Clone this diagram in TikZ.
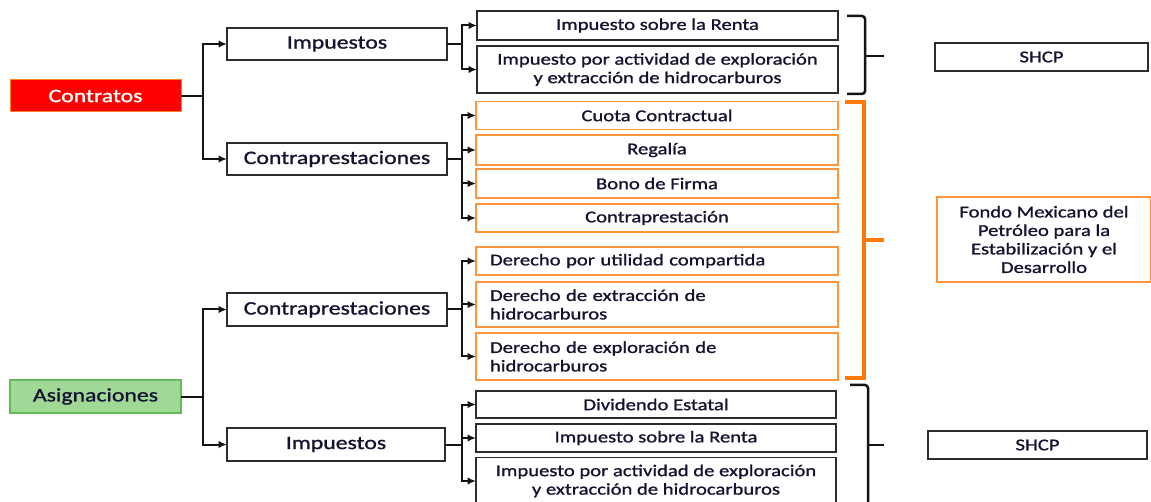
\documentclass[tikz,border=0pt]{standalone}
\usepackage{fontspec}
\setmainfont{Carlito}[FakeStretch=1.25,FakeBold=1.2]
\usetikzlibrary{arrows.meta}
\definecolor{txt}{RGB}{20,20,50}
\definecolor{lin}{RGB}{20,20,20}
\definecolor{boxd}{RGB}{45,45,45}
\definecolor{org}{RGB}{255,150,60}
\definecolor{orgd}{RGB}{255,120,10}
\definecolor{redf}{RGB}{255,0,0}
\definecolor{redd}{RGB}{255,130,30}
\definecolor{grnf}{RGB}{160,216,150}
\definecolor{grnd}{RGB}{100,185,90}
\tikzset{
  base/.style={inner sep=0pt,outer sep=0pt,text=txt,align=center},
  title/.style={base,draw=boxd,line width=1.3pt,font=\fontsize{19}{22}\selectfont},
  blk/.style={base,draw=boxd,line width=1.3pt,font=\fontsize{16.5}{18.5}\selectfont},
  orb/.style={base,draw=org,line width=1.3pt,font=\fontsize{16.5}{18.5}\selectfont},
  orl/.style={orb,align=left,inner xsep=14pt,text width=334pt},
  arr/.style={draw=lin,line width=2pt,-{Latex[length=8.5pt,width=7.5pt]}},
  brace/.style={draw=lin,line width=2.5pt,rounded corners=3pt},
  obrace/.style={draw=orgd,line width=3.5pt}
}
\begin{document}
\begin{tikzpicture}[x=1pt,y=-1pt]
\useasboundingbox (0,0) rectangle (1151,502);
% roots
\node[base,draw=redd,fill=redf,line width=1pt,text=white,minimum width=171,minimum height=32,font=\fontsize{19}{22}\selectfont] (contratos) at (95.5,96) {Contratos};
\node[base,draw=grnd,fill=grnf,line width=1.3pt,minimum width=171,minimum height=33,font=\fontsize{19}{22}\selectfont] (asig) at (95.5,396.5) {Asignaciones};
% second level
\node[title,minimum width=220,minimum height=32] (imp1) at (337,44) {Impuestos};
\node[title,minimum width=220,minimum height=32] (con1) at (337,159) {Contraprestaciones};
\node[title,minimum width=220,minimum height=33] (con2) at (337,309.5) {Contraprestaciones};
\node[title,minimum width=218,minimum height=33] (imp2) at (336,444.5) {Impuestos};
% items
\node[blk,minimum width=361,minimum height=29] (a1) at (657.5,25.5) {Impuesto sobre la Renta};
\node[blk,minimum width=361,minimum height=47] (a2) at (657.5,69.5) {Impuesto por actividad de exploración\\y extracción de hidrocarburos};
\node[orb,minimum width=362,minimum height=28] (b1) at (657,115.5) {Cuota Contractual};
\node[orb,minimum width=362,minimum height=30] (b2) at (657,150) {Regalía};
\node[orb,minimum width=362,minimum height=29] (b3) at (657,183.5) {Bono de Firma};
\node[orb,minimum width=362,minimum height=28] (b4) at (657,218) {Contraprestación};
\node[orl,minimum width=362,minimum height=28] (c1) at (657,261) {Derecho por utilidad compartida};
\node[orl,minimum width=362,minimum height=45] (c2) at (657,304.5) {Derecho de extracción de\\hidrocarburos};
\node[orl,minimum width=362,minimum height=47] (c3) at (657,356.5) {Derecho de exploración de\\hidrocarburos};
\node[blk,minimum width=360,minimum height=27] (d1) at (656,404.5) {Dividendo Estatal};
\node[blk,minimum width=360,minimum height=28] (d2) at (656,438) {Impuesto sobre la Renta};
\node[blk,minimum width=360,minimum height=47] (d3) at (656,481) {Impuesto por actividad de exploración\\y extracción de hidrocarburos};
% right boxes
\node[blk,minimum width=213,minimum height=28] (shcp1) at (1041.5,57) {SHCP};
\node[orb,minimum width=214,minimum height=85] (fondo) at (1044,239.5) {Fondo Mexicano del\\Petróleo para la\\Estabilización y el\\Desarrollo};
\node[blk,minimum width=219,minimum height=28] (shcp2) at (1037.5,445) {SHCP};
% spines
\coordinate (s1) at (203,0);
\coordinate (s2) at (462,0);
% connectors level 1
\draw[arr] (contratos.east) -- (contratos.east -| s1) |- (imp1.west);
\draw[arr] (contratos.east) -- (contratos.east -| s1) |- (con1.west);
\draw[arr] (asig.east) -- (asig.east -| s1) |- (con2.west);
\draw[arr] (asig.east) -- (asig.east -| s1) |- (imp2.west);
% connectors level 2
\foreach \c in {a1,a2} \draw[arr] (imp1.east) -- (imp1.east -| s2) |- (\c.west);
\foreach \c in {b1,b2,b3,b4} \draw[arr] (con1.east) -- (con1.east -| s2) |- (\c.west);
\foreach \c in {c1,c2,c3} \draw[arr] (con2.east) -- (con2.east -| s2) |- (\c.west);
\foreach \c in {d1,d2,d3} \draw[arr] (imp2.east) -- (imp2.east -| s2) |- (\c.west);
% braces
\draw[brace] (847,16) -- (865,16) -- (865,94) -- (847,94);
\draw[draw=lin,line width=2.5pt] (865,56) -- (884,56);
\draw[obrace] (845,102) -- (864,102) -- (864,378) -- (845,378);
\draw[obrace] (864,240) -- (884,240);
\draw[brace] (850,385) -- (868,385) -- (868,505) -- (850,505);
\draw[draw=lin,line width=2.5pt] (868,445) -- (884,445);
\end{tikzpicture}
\end{document}
